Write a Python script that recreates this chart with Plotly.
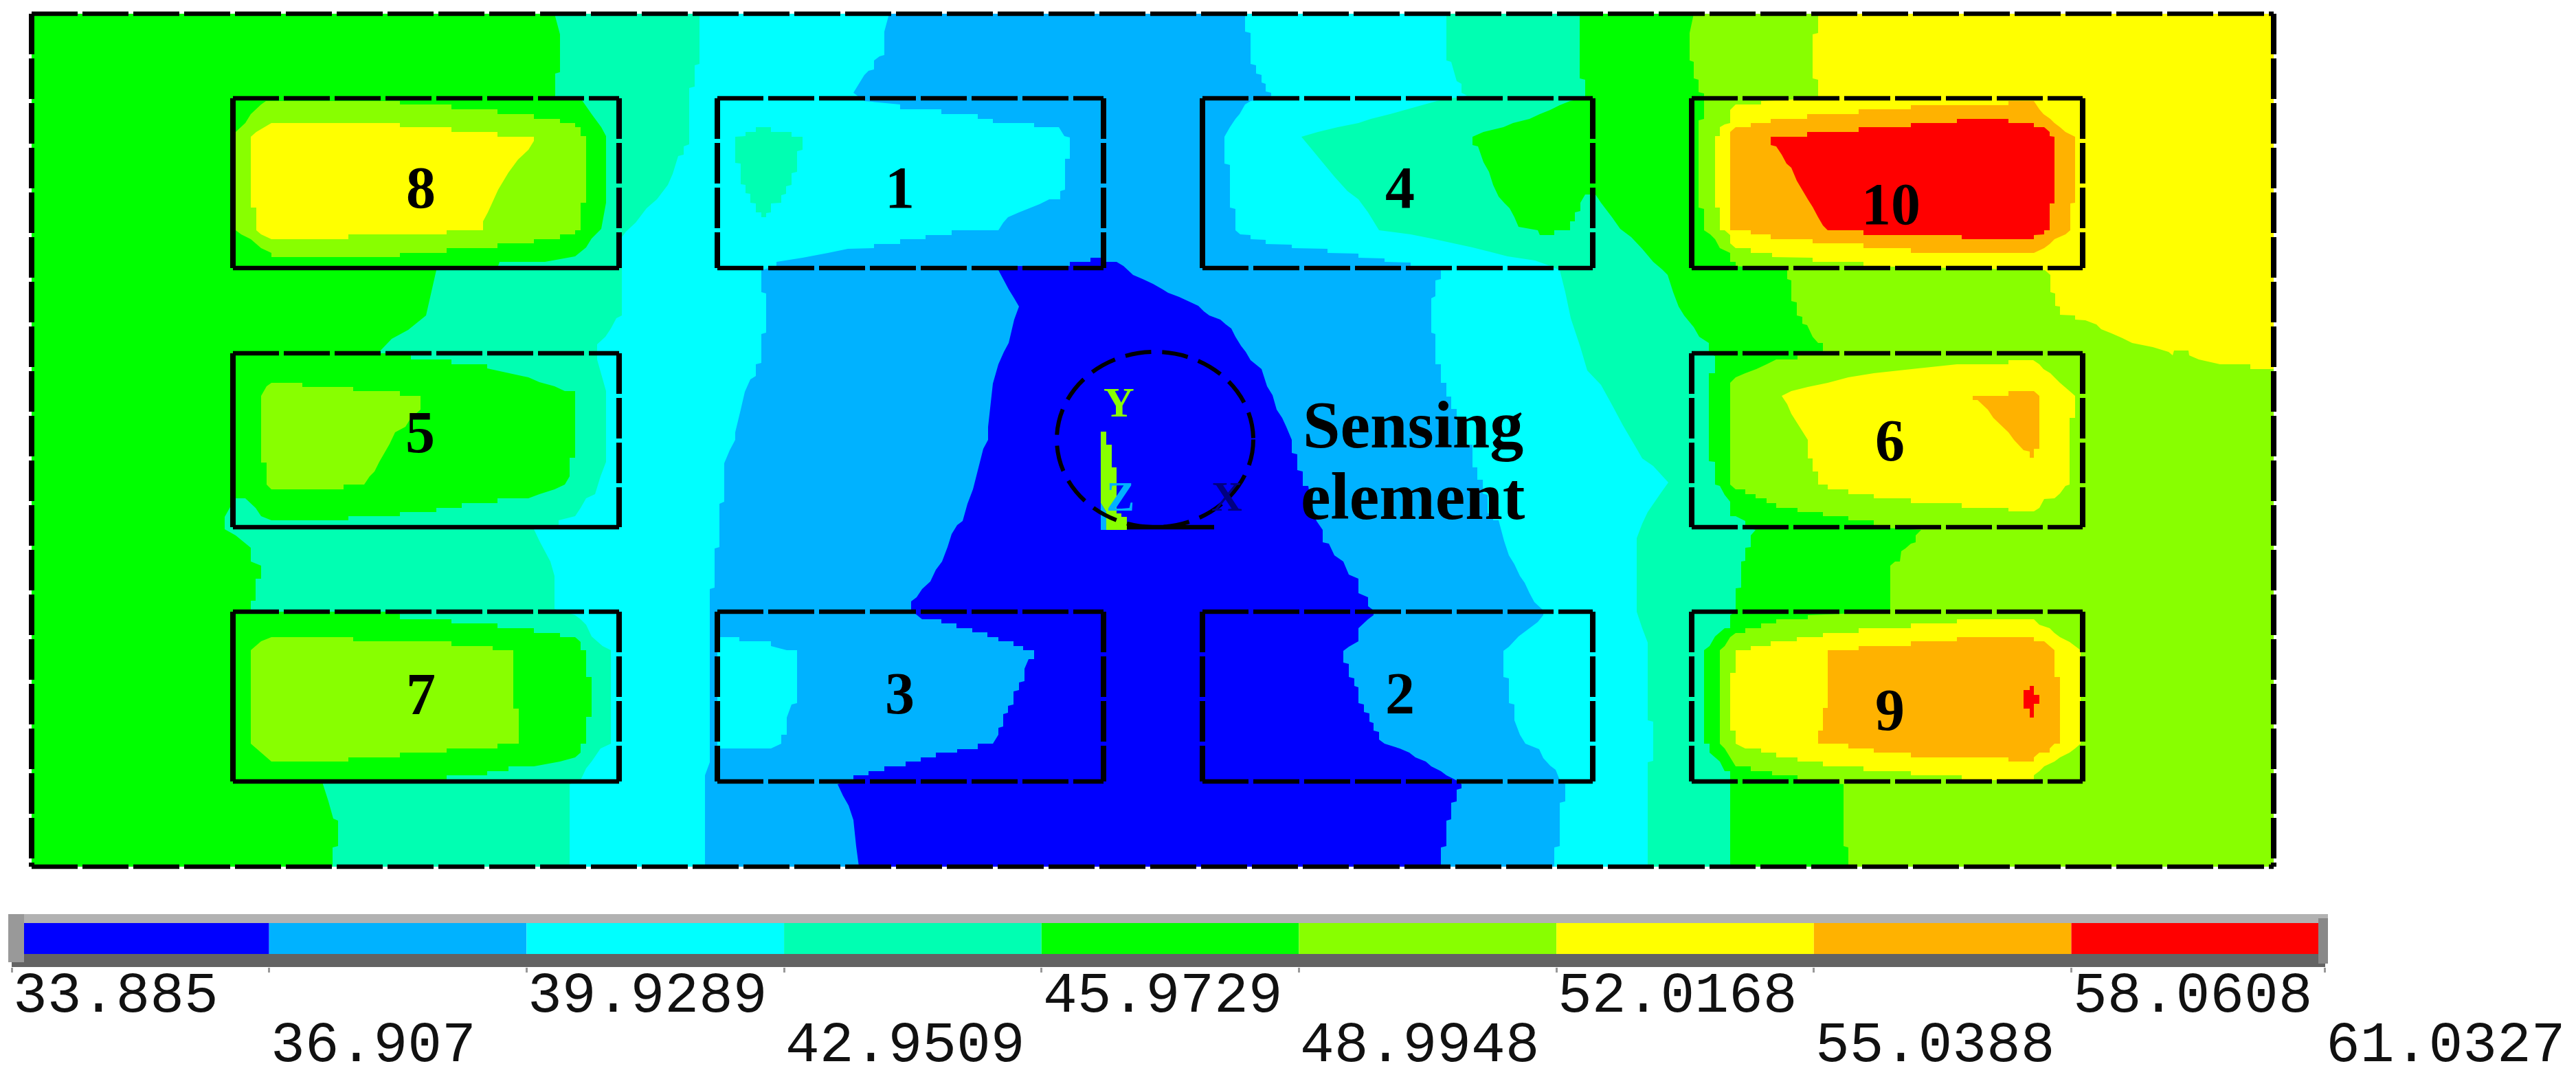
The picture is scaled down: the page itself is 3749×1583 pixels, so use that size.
import plotly.graph_objects as go

# ---- contour band colours and legend values (degrees) ----
BAND_VALUES = [33.885, 36.907, 39.9289, 42.9509, 45.9729, 48.9948, 52.0168, 55.0388, 58.0608, 61.0327]
BAND_LABELS = ["33.885", "36.907", "39.9289", "42.9509", "45.9729", "48.9948", "52.0168", "55.0388", "58.0608", "61.0327"]
BAND_COLORS = ["#0000FF", "#00B2FF", "#00FFFF", "#00FFB2", "#00FF00", "#88FF00", "#FFFF00", "#FFB200", "#FF0000"]
BLUE, LBLUE, CYAN, TEAL, GREEN, LIME, YELLOW, ORANGE, RED = BAND_COLORS

# ---- plate outline and heater boxes (image units) ----
PLATE = (46, 3309, 20, 1261)
COL_X = {"a": (339, 901), "b": (1044, 1606), "c": (1750, 2318), "d": (2462, 3031)}
ROW_Y = {"t": (143, 390), "m": (514, 767), "b": (890, 1137)}
BOXES = [("a", "t"), ("a", "m"), ("a", "b"), ("b", "t"), ("b", "b"), ("c", "t"), ("c", "b"), ("d", "t"), ("d", "m"), ("d", "b")]
SOLID_SIDES = {("a", "t"): "LB", ("a", "m"): "LB", ("a", "b"): "LB", ("c", "t"): "L", ("d", "t"): "L"}
BOX_LABELS = [("8", 612, 273), ("1", 1309, 273), ("4", 2037, 273), ("10", 2752, 297), ("5", 611, 629),
              ("6", 2750, 641), ("3", 1309, 1009), ("2", 2037, 1009), ("7", 612, 1010), ("9", 2750, 1033)]

# ---- contour region boundaries ----
lime_chain = [(2465,20),(2459,48),(2459,88),(2465,90),(2465,114),(2472,116),(2472,134),(2480,136),(2480,173),(2472,175),(2472,302),(2480,304),(2480,335),(2489,341),(2496,348),(2503,361),(2518,368),(2518,381),(2526,381),(2526,387),
 (2601,393),(2601,406),(2607,408),(2607,438),(2615,440),(2615,459),(2623,461),(2623,471),(2630,473),(2638,490),(2646,499),(2653,499),(2653,514),
 (2616,517),(2616,523),(2585,523),(2571,530),(2556,537),(2540,543),(2526,549),(2518,557),(2518,705),(2526,712),(2540,712),(2540,719),(2555,719),(2555,725),(2571,725),(2571,732),(2585,732),(2585,739),(2616,739),(2616,745),(2653,745),(2653,751),(2690,751),(2690,757),(2727,757),(2727,767),
 (2796,771),(2788,779),(2788,789),(2781,791),(2773,798),(2767,802),(2765,817),(2758,817),(2751,823),(2751,890),
 (2631,895),(2631,901),(2585,901),(2585,907),(2563,907),(2563,914),(2540,914),(2540,921),(2526,921),(2518,927),(2510,940),(2503,946),(2503,1082),(2510,1089),(2518,1102),(2526,1115),(2548,1115),(2548,1122),(2579,1122),(2579,1128),(2616,1128),(2616,1135),
 (2683,1141),(2683,1231),(2690,1233),(2690,1261),(3309,1261),(3309,20)]

yellow_chain = [(2646,20),(2646,48),(2638,50),(2638,114),(2646,116),(2646,143),(2563,147),(2563,152),(2526,152),(2518,160),(2518,179),(2510,181),(2503,185),(2503,198),(2496,198),(2496,302),(2503,302),(2503,335),(2510,335),(2518,342),(2518,354),(2526,361),(2548,361),(2548,368),(2579,368),(2579,374),(2638,375),(2638,381),(2712,381),(2712,387),
 (2976,393),(2984,400),(2984,425),(2991,427),(2991,445),(2998,446),(2998,458),(3020,459),(3020,465),(3035,466),(3051,472),(3058,479),(3073,485),(3089,492),(3103,499),(3133,505),(3156,512),(3162,517),(3164,510),(3185,510),(3186,517),(3200,523),(3231,530),(3275,530),(3275,537),(3309,537),(3309,20)]

teal_left = [(807,20),(815,50),(815,105),(808,107),(808,140),(725,387),(635,393),(627,430),(620,459),(594,480),(570,493),(550,514),(345,720),(327,752),(327,770),(343,779),(365,797),(365,817),(380,823),(380,842),(372,842),(372,874),(365,874),(365,900),(470,1130),(470,1141),(478,1166),(485,1191),(492,1194),(492,1231),(484,1233),(484,1261)]
teal_right = [(2299,20),(2299,114),(2307,116),(2307,143),(2285,147),(2270,153),(2256,160),(2241,166),(2226,173),(2202,179),(2188,185),(2159,192),(2143,199),(2143,211),(2151,213),(2159,236),(2167,250),(2173,269),(2181,286),(2189,295),(2197,303),(2204,316),(2210,330),(2238,335),(2241,342),(2262,342),(2262,335),(2285,335),(2285,322),(2292,322),(2292,309),(2300,307),(2300,295),(2307,283),(2322,283),
 (2330,295),(2346,316),(2358,333),(2374,345),(2390,362),(2406,381),(2419,392),(2427,400),(2435,425),(2443,446),(2451,459),(2465,476),(2473,490),(2487,499),(2487,514),(2496,518),(2496,543),(2487,543),(2487,671),(2496,672),(2496,705),(2503,707),(2510,720),(2518,730),(2518,751),(2526,751),(2540,758),(2540,767),
 (2555,771),(2548,779),(2548,796),(2540,797),(2540,816),(2534,817),(2534,855),(2526,856),(2526,890),(2518,895),(2518,914),(2510,914),(2503,920),(2496,926),(2488,940),(2480,946),(2480,1082),(2488,1082),(2488,1095),(2496,1102),(2503,1108),(2510,1122),(2518,1122),(2518,1261)]

cyan_left = [(1018,20),(1018,93),(1011,95),(1011,126),(1003,128),(1003,210),(995,213),(995,225),(987,227),(979,253),(972,269),(956,290),(941,303),(925,324),(911,337),(905,345),(905,459),(897,463),(889,478),(881,490),(869,501),(869,514),(869,523),(882,569),(882,672),(874,693),(866,719),(853,725),(845,739),(837,751),(813,757),(813,767),(777,770),(785,787),(793,802),(801,817),(807,838),(807,886),(837,895),(845,901),(853,909),(861,926),(877,940),(889,946),(889,1082),(874,1089),(861,1108),(853,1118),(845,1135),(829,1141),(829,1261)]
cyan_right = [(2105,20),(2105,88),(2112,90),(2120,118),(2127,122),(2127,135),(2135,139),(2091,147),(2069,153),(2023,166),(1995,173),(1977,179),(1947,185),(1918,192),(1894,199),(1910,219),(1926,238),(1942,257),(1961,278),(1977,290),(1991,309),(2007,335),(2053,341),(2083,347),(2143,360),(2167,366),(2194,373),(2234,379),(2256,387),
 (2270,393),(2278,425),(2286,463),(2300,505),(2310,539),(2330,560),(2346,589),(2362,619),(2382,653),(2390,667),(2406,678),(2428,702),(2418,716),(2398,745),(2390,762),(2382,783),(2382,890),(2390,914),(2398,935),(2398,1048),(2406,1050),(2406,1107),(2398,1109),(2398,1261)]

lblue_left = [(1294,20),(1287,46),(1287,80),(1280,82),(1272,88),(1272,101),(1264,103),(1258,109),(1250,122),(1242,135),(1258,147),(1310,152),(1310,159),(1370,159),(1370,166),(1423,166),(1423,173),(1445,173),(1445,179),(1505,179),(1505,185),(1541,185),(1549,198),(1557,200),(1557,231),(1550,231),(1550,276),(1543,278),(1543,290),(1527,290),(1513,297),(1497,303),(1483,309),(1467,316),(1460,324),(1453,335),(1385,335),(1385,342),(1347,342),(1347,348),(1310,348),(1310,355),(1272,355),(1272,361),(1234,362),(1205,368),(1168,375),(1130,381),(1130,387),(1108,393),
 (1108,425),(1115,427),(1115,484),(1108,486),(1108,528),(1100,530),(1100,547),(1092,552),(1084,570),(1078,596),(1070,629),(1070,640),(1062,655),(1054,674),(1054,730),(1047,733),(1047,796),(1040,798),(1040,855),(1033,857),(1033,1109),(1026,1128),(1026,1261)]
lblue_right = [(1812,20),(1812,46),(1820,48),(1820,93),(1828,95),(1828,107),(1836,109),(1836,120),(1842,122),(1842,133),(1850,135),(1850,143),(1820,147),(1812,152),(1804,166),(1798,173),(1790,185),(1782,199),(1782,238),(1790,240),(1790,302),(1798,304),(1798,335),(1805,341),(1820,342),(1820,348),(1842,349),(1842,355),(1880,356),(1880,361),(1932,362),(1932,368),(1977,369),(1977,375),(2015,376),(2015,381),(2053,382),(2053,387),
 (2097,393),(2097,406),(2089,408),(2089,431),(2083,434),(2083,484),(2089,486),(2089,530),(2097,530),(2097,557),(2105,557),(2105,577),(2112,577),(2112,595),(2120,595),(2120,647),(2143,647),(2143,680),(2150,680),(2150,698),(2158,698),(2158,718),(2165,720),(2165,747),(2173,747),(2173,757),(2181,757),(2189,787),(2196,808),(2204,821),(2212,838),(2219,848),(2226,863),(2233,876),(2246,888),
 (2246,895),(2238,905),(2226,914),(2210,926),(2196,941),(2188,947),(2188,985),(2196,987),(2196,1023),(2204,1025),(2204,1048),(2212,1069),(2220,1082),(2240,1090),(2246,1103),(2256,1114),(2264,1120),(2270,1135),(2278,1141),(2278,1166),(2270,1168),(2270,1231),(2262,1233),(2262,1261)]

blue_left = [(1453,387),(1557,387),(1557,381),(1587,381),(1587,375),(1602,375),(1602,381),(1625,381),(1635,387),(1641,393),(1649,400),(1663,406),(1678,413),(1692,421),(1700,426),(1716,432),(1731,439),(1744,445),(1752,453),(1760,459),(1776,465),(1784,472),(1792,478),(1798,490),(1806,503),(1813,512),(1820,524),(1836,537),(1844,562),(1852,575),(1858,596),(1866,608),(1872,621),(1880,640),(1880,659),(1888,661),(1888,684),(1896,686),(1896,707),(1904,707),(1908,733),(1916,758),(1925,771),(1925,789),(1934,791),(1942,808),(1955,817),(1963,836),(1977,842),(1977,863),(1991,869),(1991,882),(1999,888),
 (1999,895),(1991,901),(1977,914),(1977,933),(1963,941),(1955,947),(1955,964),(1963,966),(1963,985),(1971,987),(1971,998),(1977,1000),(1977,1023),(1985,1025),(1985,1036),(1993,1038),(1993,1050),(1999,1052),(1999,1063),(2007,1065),(2007,1076),(2015,1082),(2037,1089),(2051,1095),(2060,1102),(2075,1108),(2083,1115),(2097,1122),(2105,1128),(2119,1135),
 (2127,1141),(2127,1147),(2120,1149),(2120,1166),(2112,1168),(2112,1192),(2105,1194),(2105,1231),(2097,1233),(2097,1261)]
blue_right = [(1453,387),(1453,393),(1460,406),(1468,421),(1476,434),(1483,446),(1476,465),(1468,499),(1461,512),(1453,530),(1445,558),(1438,621),(1438,640),(1431,653),(1423,684),(1416,712),(1408,733),(1401,758),(1393,764),(1385,777),(1379,796),(1371,817),(1362,829),(1354,846),(1342,857),(1334,869),(1326,875),(1326,888),(1342,901),(1370,901),(1370,907),(1392,907),(1392,914),(1415,914),(1415,920),(1437,920),(1437,927),(1453,927),(1453,933),(1475,933),(1475,940),(1489,940),(1489,946),(1505,946),(1505,959),(1497,959),(1491,973),(1491,991),(1483,993),(1483,1004),(1475,1006),(1475,1025),(1467,1027),(1467,1037),(1460,1039),(1460,1057),(1453,1059),(1453,1069),(1445,1082),(1423,1082),(1423,1090),(1393,1090),(1393,1095),(1362,1095),(1362,1102),(1340,1102),(1340,1108),(1318,1108),(1318,1115),(1287,1115),(1287,1122),(1264,1122),(1264,1128),(1242,1128),(1242,1135),(1219,1141),(1227,1158),(1235,1172),(1242,1193),(1246,1231),(1250,1261)]

green_8 = [(339,143),(845,143),(861,166),(875,185),(882,198),(882,295),(875,333),(861,347),(853,360),(837,373),(793,381),(725,381),(725,390),(339,390)]
lime_8 = [(387,147),(582,147),(582,152),(657,152),(657,159),(724,159),(724,166),(777,166),(777,173),(815,173),(815,179),(837,179),(837,185),(845,185),(845,198),(853,198),(853,295),(845,295),(845,335),(837,335),(837,341),(815,341),(815,348),(777,348),(777,354),(724,354),(724,361),(650,361),(650,368),(582,368),(582,374),(395,374),(395,368),(380,361),(365,348),(351,341),(343,335),(343,192),(357,179),(365,166),(380,152)]
yellow_8 = [(395,179),(582,179),(582,185),(657,185),(657,192),(724,192),(724,199),(777,199),(777,205),(769,218),(754,232),(740,251),(725,276),(710,309),(703,322),(703,335),(650,335),(650,341),(507,341),(507,348),(395,348),(380,341),(373,335),(373,302),(365,302),(365,199),(373,192)]
green_5 = [(339,514),(598,514),(598,523),(657,523),(657,530),(709,530),(709,536),(740,543),(769,549),(785,556),(807,562),(822,569),(837,569),(837,666),(829,666),(829,693),(822,705),(807,712),(785,719),(769,725),(724,725),(724,732),(672,732),(672,739),(635,739),(635,745),(582,745),(582,751),(507,751),(507,757),(395,757),(380,751),(372,739),(357,725),(339,725)]
lime_5 = [(395,557),(440,557),(440,563),(514,563),(514,569),(582,569),(582,576),(612,576),(612,596),(598,608),(590,621),(575,629),(567,646),(552,672),(545,686),(538,693),(530,705),(500,705),(500,712),(395,712),(388,705),(388,673),(380,673),(380,576),(388,562)]
green_7 = [(339,890),(582,890),(582,901),(657,901),(657,907),(724,907),(724,914),(777,914),(777,921),(815,921),(815,927),(837,927),(845,934),(845,946),(853,946),(853,985),(861,985),(861,1043),(853,1043),(853,1082),(845,1082),(845,1095),(837,1102),(815,1108),(777,1115),(740,1115),(740,1122),(709,1122),(709,1128),(650,1128),(650,1137),(339,1137)]
lime_7 = [(395,927),(514,927),(514,933),(657,933),(657,940),(717,940),(717,946),(747,946),(747,1031),(755,1031),(755,1082),(724,1082),(724,1089),(650,1089),(650,1095),(582,1095),(582,1102),(507,1102),(507,1108),(395,1108),(380,1095),(365,1082),(365,946),(380,933)]
teal_1 = [(1100,185),(1122,185),(1122,192),(1152,192),(1152,199),(1168,199),(1168,218),(1160,220),(1160,250),(1152,252),(1152,269),(1144,271),(1144,282),(1137,284),(1137,295),(1122,296),(1122,309),(1115,310),(1115,316),(1108,316),(1108,309),(1100,309),(1100,296),(1092,295),(1092,282),(1085,281),(1085,269),(1078,268),(1078,238),(1070,237),(1070,199),(1085,198),(1085,192),(1100,192)]
cyan_3 = [(1044,927),(1076,927),(1076,933),(1122,933),(1122,940),(1145,946),(1160,946),(1160,1023),(1152,1025),(1145,1044),(1145,1069),(1137,1069),(1137,1082),(1122,1089),(1044,1089)]
yellow_6 = [(2923,524),(2959,524),(2968,530),(2974,537),(2984,543),(2990,549),(2998,557),(3012,569),(3020,576),(3020,608),(3012,608),(3012,705),(3006,707),(2998,718),(2990,725),(2975,726),(2968,739),(2960,744),(2923,744),(2923,739),(2855,739),(2855,732),(2781,732),(2781,725),(2727,725),(2727,719),(2690,719),(2690,712),(2660,712),(2660,705),(2646,705),(2646,686),(2638,686),(2638,667),(2631,667),(2631,640),(2623,627),(2615,615),(2607,602),(2601,588),(2593,576),(2607,569),(2631,563),(2660,557),(2690,549),(2727,543),(2781,537),(2848,530),(2923,530)]
orange_6 = [(2871,576),(2923,576),(2923,569),(2960,569),(2968,576),(2968,653),(2960,653),(2960,666),(2954,666),(2954,657),(2945,655),(2931,640),(2923,629),(2915,621),(2908,615),(2901,608),(2893,596),(2885,588),(2878,582),(2871,582)]
orange_10 = [(2923,147),(2960,147),(2968,159),(2974,166),(2984,173),(2990,179),(2998,185),(3006,192),(3020,199),(3020,295),(3013,296),(3013,335),(3006,341),(2990,348),(2983,355),(2975,361),(2960,368),(2781,368),(2781,361),(2712,361),(2712,354),(2638,354),(2638,348),(2577,348),(2577,341),(2548,341),(2548,335),(2518,335),(2518,192),(2526,185),(2548,185),(2548,179),(2577,179),(2577,173),(2630,173),(2630,166),(2705,166),(2705,159),(2781,159),(2781,153),(2923,153)]
red_10 = [(2848,173),(2923,173),(2923,179),(2960,179),(2960,185),(2975,185),(2983,192),(2983,198),(2990,199),(2990,296),(2983,296),(2983,335),(2975,335),(2975,341),(2960,342),(2960,348),(2855,348),(2855,342),(2712,342),(2712,335),(2660,335),(2653,328),(2646,316),(2638,301),(2631,290),(2623,276),(2615,263),(2607,244),(2600,238),(2593,225),(2585,213),(2577,211),(2577,199),(2630,199),(2630,192),(2705,192),(2705,185),(2781,185),(2781,179),(2848,179)]
yellow_9 = [(2848,901),(2960,901),(2968,909),(2983,914),(2990,921),(2998,927),(3012,934),(3028,946),(3028,1082),(3020,1089),(3012,1095),(2998,1102),(2990,1108),(2975,1115),(2968,1122),(2960,1128),(2960,1135),(2855,1135),(2855,1128),(2781,1128),(2781,1122),(2712,1122),(2712,1115),(2653,1115),(2653,1108),(2616,1108),(2616,1102),(2585,1102),(2585,1095),(2563,1095),(2563,1089),(2540,1089),(2526,1082),(2526,1063),(2518,1063),(2518,979),(2526,979),(2526,946),(2548,946),(2548,940),(2577,940),(2577,933),(2615,933),(2615,927),(2653,927),(2653,921),(2705,921),(2705,914),(2781,914),(2781,907),(2848,907)]
orange_9 = [(2848,927),(2960,927),(2960,933),(2975,933),(2983,940),(2990,946),(2990,985),(2998,985),(2998,1082),(2990,1082),(2983,1089),(2983,1095),(2968,1095),(2960,1102),(2960,1108),(2923,1108),(2923,1102),(2781,1102),(2781,1095),(2727,1095),(2727,1089),(2690,1089),(2690,1082),(2646,1082),(2646,1063),(2653,1063),(2653,1030),(2660,1030),(2660,946),(2705,946),(2705,940),(2781,940),(2781,933),(2848,933)]
red_9 = [(2954,998),(2960,998),(2960,1011),(2968,1011),(2968,1024),(2960,1024),(2960,1044),(2954,1044),(2954,1031),(2945,1031),(2945,1004),(2954,1004)]
triad_y = [(1602,628),(1610,628),(1610,647),(1618,647),(1618,680),(1625,680),(1625,747),(1632,747),(1632,752),(1640,752),(1640,771),(1610,771),(1610,745),(1602,732)]
triad_z = [(1602,732),(1610,745),(1610,771),(1602,771)]

REGIONS = [
    ("lime", lime_chain, LIME), ("yellow", yellow_chain, YELLOW),
    ("teal", teal_left + teal_right[::-1], TEAL), ("cyan", cyan_left + cyan_right[::-1], CYAN),
    ("lightblue", lblue_left + lblue_right[::-1], LBLUE), ("blue", blue_left + blue_right[::-1], BLUE),
    ("box8 green", green_8, GREEN), ("box8 lime", lime_8, LIME), ("box8 yellow", yellow_8, YELLOW),
    ("box5 green", green_5, GREEN), ("box5 lime", lime_5, LIME),
    ("box7 green", green_7, GREEN), ("box7 lime", lime_7, LIME),
    ("box1 teal", teal_1, TEAL), ("box3 cyan", cyan_3, CYAN),
    ("box6 yellow", yellow_6, YELLOW), ("box6 orange", orange_6, ORANGE),
    ("box10 orange", orange_10, ORANGE), ("box10 red", red_10, RED),
    ("box9 yellow", yellow_9, YELLOW), ("box9 orange", orange_9, ORANGE), ("box9 red", red_9, RED),
    ("triad y", triad_y, LIME), ("triad z", triad_z, LBLUE),
]

W, H = 3749, 1583
fig = go.Figure()
L, R, T, B = PLATE
fig.add_trace(go.Scatter(x=[L, R, R, L, L], y=[T, T, B, B, T], mode="lines", fill="toself",
                         fillcolor=GREEN, line=dict(width=0), hoverinfo="skip"))
for name, pts, col in REGIONS:
    fig.add_trace(go.Scatter(x=[p[0] for p in pts], y=[p[1] for p in pts], name=name, mode="lines",
                             fill="toself", fillcolor=col, line=dict(width=0), hoverinfo="skip"))

H_DASH, V_DASH = "67px,7px", "59px,6px"
def side(x0, y0, x1, y1, solid=False):
    horizontal = y0 == y1
    fig.add_trace(go.Scatter(x=[x0, x1], y=[y0, y1], mode="lines", hoverinfo="skip",
                             line=dict(color="#000000", width=6.5 if horizontal else 8,
                                       dash="solid" if solid else (H_DASH if horizontal else V_DASH))))

for key in BOXES:
    x0, x1 = COL_X[key[0]]
    y0, y1 = ROW_Y[key[1]]
    s = SOLID_SIDES.get(key, "")
    side(x0, y0, x1, y0)
    side(x1, y0, x1, y1)
    side(x0, y1, x1, y1, "B" in s)
    side(x0, y0, x0, y1, "L" in s)
side(L, T, R, T); side(R, T, R, B); side(L, B, R, B); side(L, T, L, B)
side(1640, 767, 1767, 767, True)

# legend bar, on a value axis
for lo, hi, col in zip(BAND_VALUES[:-1], BAND_VALUES[1:], BAND_COLORS):
    fig.add_trace(go.Bar(x=[hi - lo], base=[lo], y=[1365.5], width=[45], orientation="h",
                         marker=dict(color=col, line=dict(width=0)), xaxis="x2", yaxis="y2", hoverinfo="skip"))

slope = (BAND_VALUES[-1] - BAND_VALUES[0]) / (3383 - 17)
x2_range = [BAND_VALUES[0] - 17 * slope, BAND_VALUES[0] + (W - 17) * slope]

shapes = [
    dict(type="circle", xref="x", yref="y", x0=1538, x1=1824, y0=512, y1=767, layer="above",
         line=dict(color="#000000", width=6, dash="38px,16px")),
    dict(type="rect", xref="x", yref="y", x0=12, x1=3388, y0=1330, y1=1343, fillcolor="#B2B2B2", line_width=0),
    dict(type="rect", xref="x", yref="y", x0=17, x1=3384, y0=1388, y1=1407, fillcolor="#636363", line_width=0),
    dict(type="rect", xref="x", yref="y", x0=12, x1=35, y0=1330, y1=1400, fillcolor="#999999", line_width=0),
    dict(type="rect", xref="x", yref="y", x0=3374, x1=3388, y0=1336, y1=1402, fillcolor="#888888", line_width=0),
]

ann = []
for text, x, y in BOX_LABELS:
    ann.append(dict(text=text, x=x, y=y, xref="x", yref="y", showarrow=False, xanchor="center", yanchor="middle",
                    font=dict(family="Liberation Serif", size=86, color="#000000", weight="bold")))
for text, y in [("Sensing", 618), ("element", 722)]:
    ann.append(dict(text=text, x=2056, y=y, xref="x", yref="y", showarrow=False, xanchor="center", yanchor="middle",
                    font=dict(family="Liberation Serif", size=98, color="#000000", weight="bold")))
for text, x, y, col in [("Y", 1628, 585, LIME), ("Z", 1630, 722, LBLUE), ("X", 1785, 722, "#000080")]:
    ann.append(dict(text=text, x=x, y=y, xref="x", yref="y", showarrow=False, xanchor="center", yanchor="middle",
                    font=dict(family="Liberation Serif", size=62, color=col, weight="bold")))
for i, (text, v) in enumerate(zip(BAND_LABELS, BAND_VALUES)):
    ann.append(dict(text=text, x=v, y=1450 if i % 2 == 0 else 1522, xref="x2", yref="y", showarrow=False,
                    xanchor="left", yanchor="middle", xshift=0,
                    font=dict(family="Liberation Mono", size=83, color="#111111")))

fig.update_layout(
    width=W, height=H, margin=dict(l=0, r=0, t=0, b=0), autosize=False, showlegend=False,
    paper_bgcolor="#FFFFFF", plot_bgcolor="rgba(0,0,0,0)", barmode="overlay", shapes=shapes, annotations=ann,
    xaxis=dict(range=[0, W], domain=[0, 1], visible=False, fixedrange=True),
    yaxis=dict(range=[H, 0], domain=[0, 1], visible=False, fixedrange=True),
    xaxis2=dict(range=x2_range, domain=[0, 1], anchor="y2", showgrid=False, zeroline=False, showline=False,
                tickvals=BAND_VALUES, ticks="outside", ticklen=7, tickwidth=3, tickcolor="#999999",
                showticklabels=False, fixedrange=True),
    yaxis2=dict(range=[1407, 1343], domain=[1 - 1407 / H, 1 - 1343 / H], anchor="x2", visible=False, fixedrange=True),
)
fig.write_html("out.html", config=dict(displayModeBar=False),
               post_script="document.body.style.margin='0';document.body.style.overflow='hidden';")
